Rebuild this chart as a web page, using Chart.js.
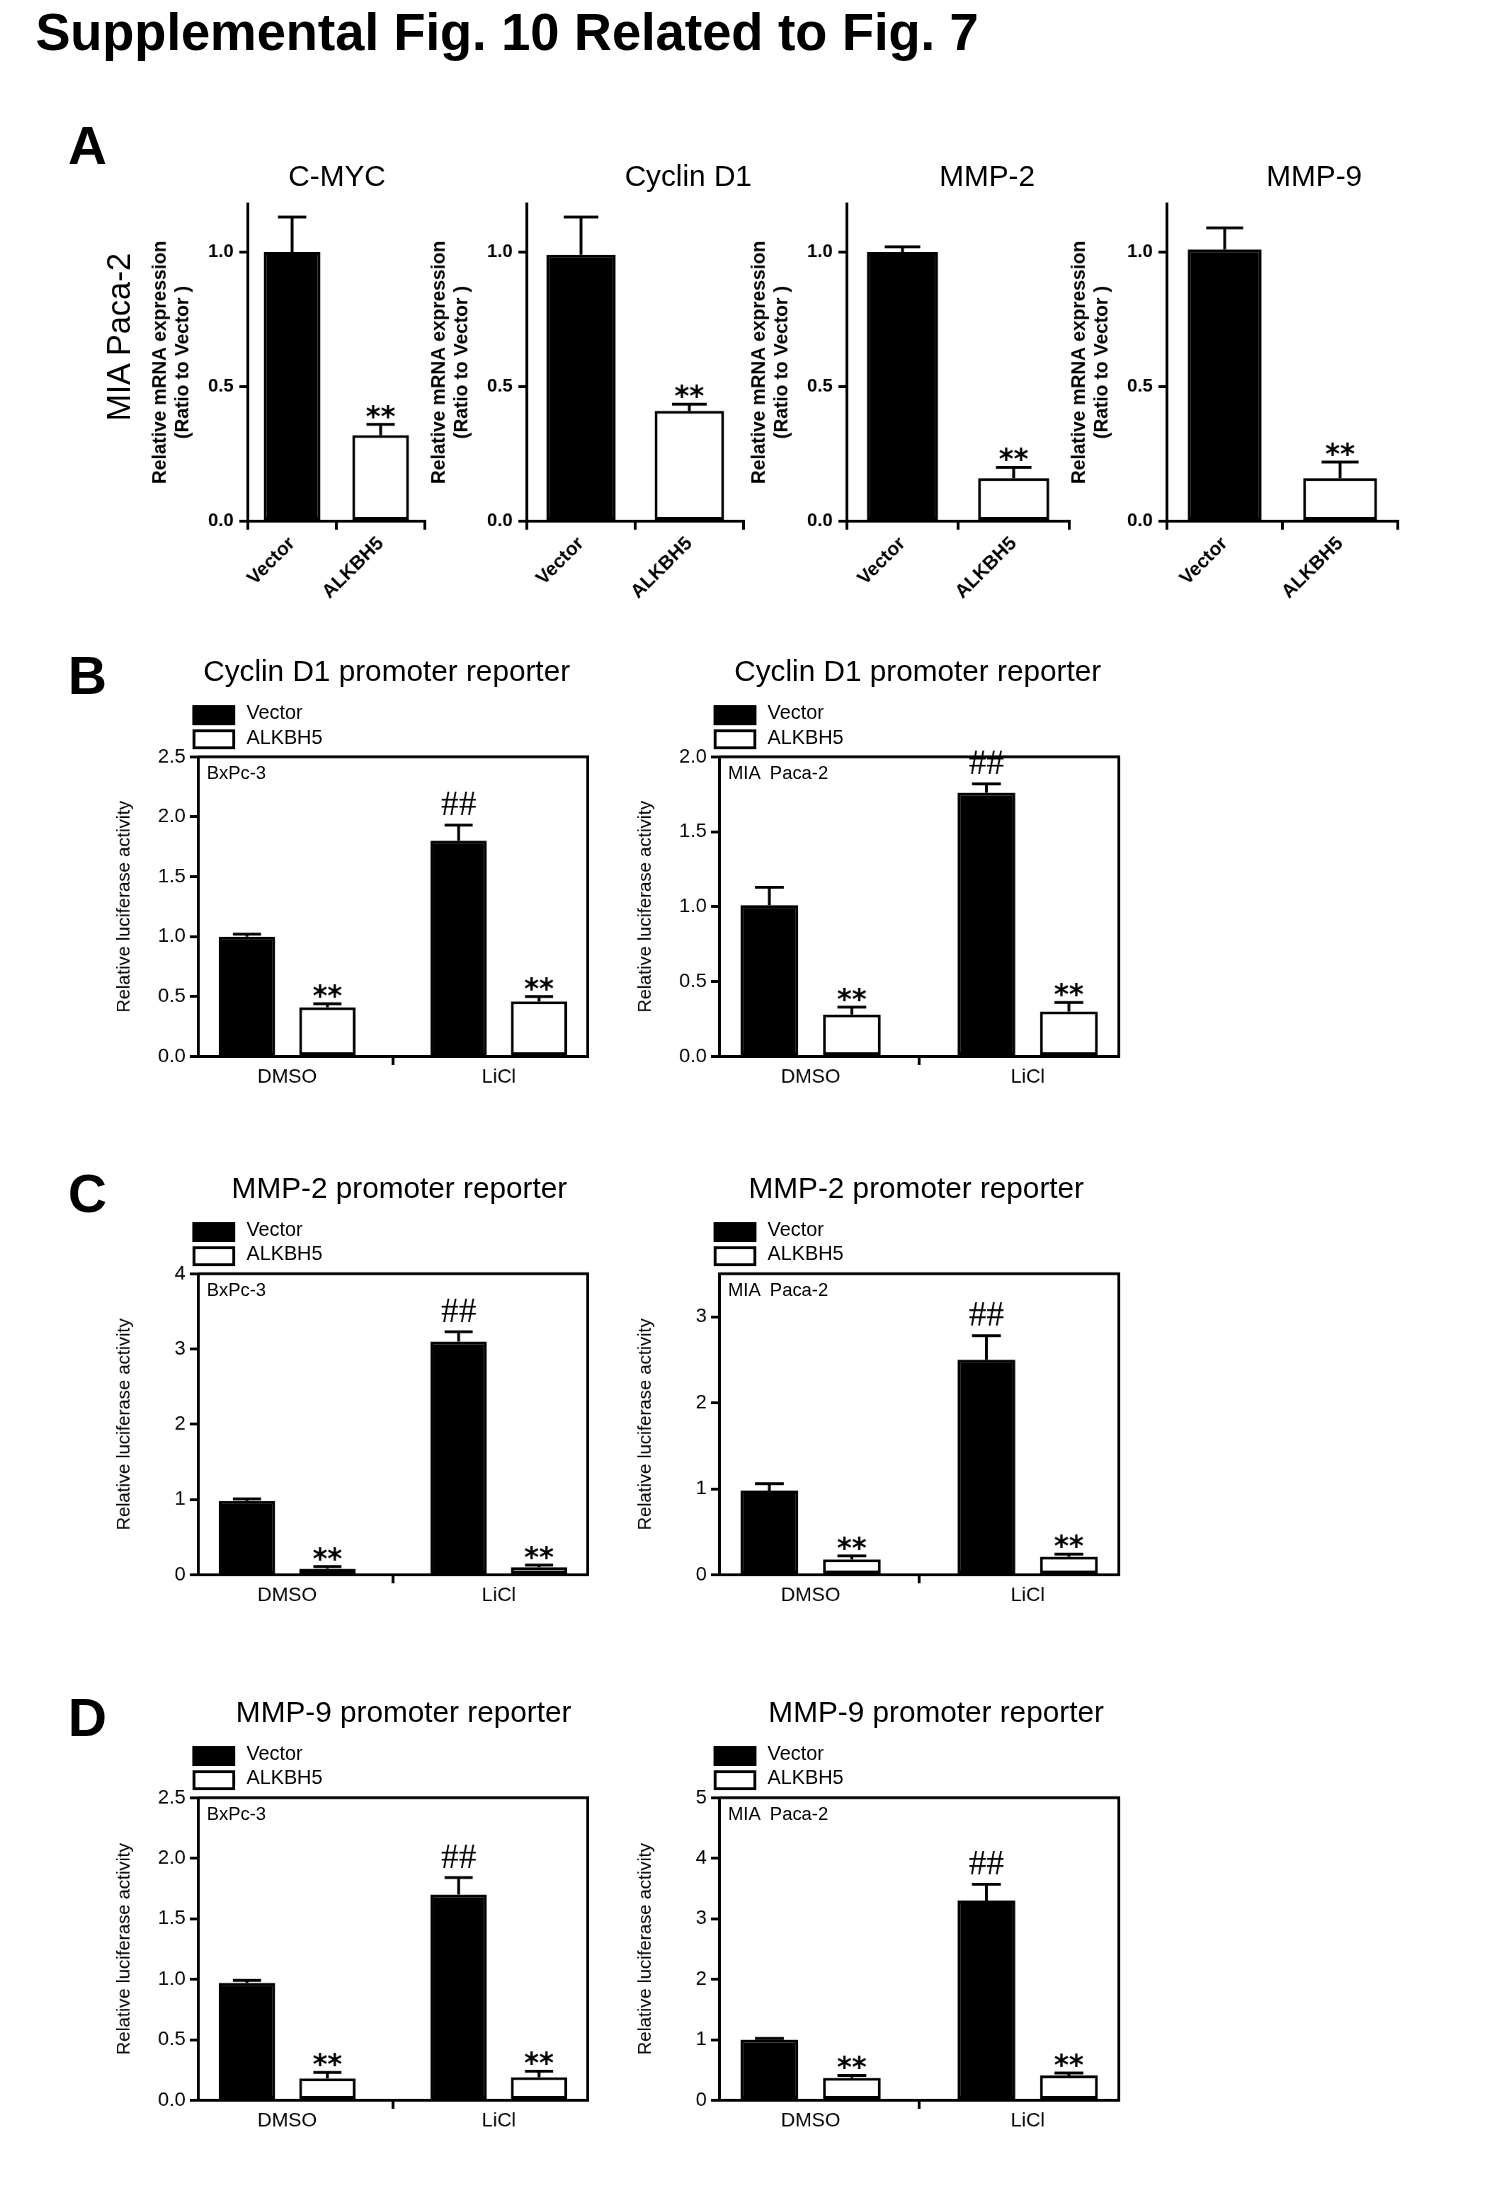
<!DOCTYPE html>
<html><head><meta charset="utf-8">
<script src="https://cdn.jsdelivr.net/npm/chart.js@4.4.1/dist/chart.umd.min.js"></script>
<style>
  html,body{margin:0;background:#fff;overflow:hidden}
  #page{position:absolute;left:0;top:0;width:1050px;height:1557px;transform:scale(1.4162);transform-origin:0 0;font-family:"Liberation Sans",Arial,sans-serif;color:#000}
  .t{position:absolute;white-space:nowrap}
  canvas{position:absolute}
  .sw{position:absolute;width:26px;height:10px;border:2px solid #000}
</style></head>
<body><div id="page"></div>
<script>
// ---- data ----
const groupsA = ['Vector', 'ALKBH5'];
const genesA = ['C-MYC', 'Cyclin D1', 'MMP-2', 'MMP-9'];
const meanA = [[1.0, 0.32], [0.99, 0.41], [1.0, 0.16], [1.01, 0.16]];
const errA = [[0.13, 0.04], [0.14, 0.025], [0.02, 0.04], [0.08, 0.06]];

const treatments = ['DMSO', 'LiCl'];
const cellLines = ['BxPc-3', 'MIA  Paca-2'];
const seriesNames = ['Vector', 'ALKBH5'];
const reporterTitles = ['Cyclin D1 promoter reporter', 'MMP-2 promoter reporter', 'MMP-9 promoter reporter'];
// [row][cellLine] -> [DMSO, LiCl]
const vectorMean = [[[1.0, 1.8], [1.01, 1.76]], [[0.98, 3.1], [0.98, 2.5]], [[0.97, 1.7], [1.0, 3.3]]];
const vectorErr  = [[[0.02, 0.13], [0.12, 0.06]], [[0.03, 0.13], [0.08, 0.28]], [[0.02, 0.14], [0.02, 0.27]]];
const alkMean    = [[[0.41, 0.46], [0.28, 0.30]], [[0.08, 0.10], [0.18, 0.21]], [[0.18, 0.19], [0.37, 0.41]]];
const alkErr     = [[[0.03, 0.04], [0.05, 0.06]], [[0.03, 0.03], [0.04, 0.03]], [[0.05, 0.05], [0.04, 0.04]]];
const yMax   = [[2.5, 2.0], [4, 3.5], [2.5, 5]];
const yStep  = [[0.5, 0.5], [1, 1], [0.5, 1]];
const yTop   = [[2.5, 2.0], [4, 3], [2.5, 5]];

// ---- helpers ----
const page = document.getElementById('page');
function txt(s, x, y, css) {
  const d = document.createElement('div'); d.className = 't'; d.textContent = s;
  d.style.left = x + 'px'; d.style.top = y + 'px'; d.style.cssText += css || '';
  page.appendChild(d); return d;
}
function canvasAt(x, y, w, h) {
  const wrap = document.createElement('div');
  wrap.style.cssText = `position:absolute;left:${x}px;top:${y}px;width:${w}px;height:${h}px`;
  const c = document.createElement('canvas');
  c.style.cssText = `left:0;top:0;width:${w}px;height:${h}px`;
  c.width = w; c.height = h;
  wrap.appendChild(c); page.appendChild(wrap); return c;
}

// error bars + significance marks
const errPlugin = {
  id: 'errbars',
  afterDatasetsDraw(chart) {
    const { ctx } = chart, y = chart.scales.y;
    chart.data.datasets.forEach((ds, i) => {
      chart.getDatasetMeta(i).data.forEach((bar, j) => {
        const v = ds.data[j].y !== undefined ? ds.data[j].y : ds.data[j];
        const top = y.getPixelForValue(v + ds.err[j]);
        const half = bar.width / 4;
        ctx.save(); ctx.strokeStyle = '#000'; ctx.lineWidth = 2;
        ctx.beginPath(); ctx.moveTo(bar.x, bar.y); ctx.lineTo(bar.x, top);
        ctx.moveTo(bar.x - half, top); ctx.lineTo(bar.x + half, top); ctx.stroke();
        const m = ds.marks && ds.marks[j];
        if (m) {
          ctx.fillStyle = '#000'; ctx.textAlign = 'center'; ctx.textBaseline = 'bottom';
          if (m === '##') { ctx.font = '25px "Liberation Serif", serif'; ctx.fillText(m, bar.x, top - 1); }
          else { ctx.font = 'bold 20px "DejaVu Sans", sans-serif'; ctx.fillText(m, bar.x, top + 6); }
        }
        ctx.restore();
      });
    });
  }
};
const boxPlugin = {
  id: 'box',
  afterDraw(chart, a, opts) {
    if (!opts.on) return;
    const { ctx, chartArea: c } = chart;
    ctx.save(); ctx.strokeStyle = '#000'; ctx.lineWidth = 2;
    ctx.beginPath(); ctx.moveTo(c.left, c.top); ctx.lineTo(c.right, c.top); ctx.lineTo(c.right, c.bottom); ctx.stroke();
    ctx.restore();
  }
};

function axisBase() {
  return {
    border: { color: '#000', width: 2 },
    grid: { drawOnChartArea: false, drawTicks: true, tickLength: 6, color: '#000', lineWidth: 2 },
  };
}

// ---- panel A ----
txt('Supplemental Fig. 10 Related to Fig. 7', 25, 2, 'font-size:37px;font-weight:bold');
txt('A', 48, 82, 'font-size:38px;font-weight:bold');
txt('MIA Paca-2', 84, 238, 'font-size:23px;transform:translate(-50%,-50%) rotate(-90deg)');
const axisXA = [175, 372, 598, 824];
const rightA = [300, 525, 755, 987];
const titleXA = [238, 486, 697, 928];
genesA.forEach((g, k) => {
  txt(g, titleXA[k], 112, 'font-size:21px;transform:translateX(-50%)');
  const yw = 70;
  const left = axisXA[k] - yw, w = rightA[k] - left + 4;
  const c = canvasAt(left, 132, w, 314);
  new Chart(c, {
    type: 'bar',
    data: { labels: groupsA, datasets: [{
      data: meanA[k], err: errA[k], marks: ['', '**'],
      backgroundColor: ['#000', '#fff'], borderColor: '#000', borderWidth: 2, borderSkipped: false,
      barPercentage: 0.64, categoryPercentage: 1 }] },
    options: {
      animation: false, responsive: false, devicePixelRatio: 2,
      layout: { padding: { top: 8, right: 4 } },
      plugins: { legend: { display: false }, tooltip: { enabled: false }, box: { on: false } },
      scales: {
        x: { ...axisBase(), offset: true,
          ticks: { color: '#000', font: { size: 13.5, weight: 'bold', family: 'Liberation Sans' }, minRotation: 45, maxRotation: 45, padding: 2 },
          afterFit(s) { s.height = 78; } },
        y: { ...axisBase(), min: 0, max: 1.18,
          afterBuildTicks(s) { s.ticks = [0, 0.5, 1].map(v => ({ value: v })); },
          ticks: { color: '#000', font: { size: 13, weight: 'bold', family: 'Liberation Sans' }, callback: v => v.toFixed(1), padding: 4 },
          title: { display: true, text: ['Relative mRNA expression', '(Ratio to Vector )'], color: '#000', font: { size: 13.5, weight: 'bold', family: 'Liberation Sans' }, padding: 0 },
          afterFit(s) { s.width = yw; } }
      }
    },
    plugins: [errPlugin, boxPlugin]
  });
});

// ---- panels B-D ----
const rowTop = [533, 898, 1268];     // plot area top
const plotH = [213, 214, 215];
const plotX = [[140, 415], [508, 790]];
const letters = ['B', 'C', 'D'];
const letterY = [456, 822, 1192];
const titleX = [[273, 648], [282, 647], [285, 661]];
rowTop.forEach((top, r) => {
  txt(letters[r], 48, letterY[r], 'font-size:38px;font-weight:bold');
  [0, 1].forEach(p => {
    const [x0, x1] = plotX[p];
    txt(reporterTitles[r], titleX[r][p], top - 71, 'font-size:21px;transform:translateX(-50%)');
    const lx = x0 - 4;
    const sw1 = document.createElement('div'); sw1.className = 'sw';
    sw1.style.cssText += `left:${lx}px;top:${top - 35}px;background:#000`; page.appendChild(sw1);
    const sw2 = document.createElement('div'); sw2.className = 'sw';
    sw2.style.cssText += `left:${lx}px;top:${top - 18}px;background:#fff`; page.appendChild(sw2);
    txt(seriesNames[0], lx + 38, top - 38, 'font-size:14px');
    txt(seriesNames[1], lx + 38, top - 21, 'font-size:14px');
    txt(cellLines[p], x0 + 6, top + 5, 'font-size:13px;white-space:pre');

    const c = canvasAt(x0 - 62, top - 10, x1 - x0 + 62 + 10, plotH[r] + 10 + 32);
    const pts = arr => arr.map((v, i) => ({ x: i, y: v }));
    new Chart(c, {
      type: 'bar',
      data: { datasets: [
        { label: seriesNames[0], data: pts(vectorMean[r][p]), err: vectorErr[r][p], marks: ['', '##'],
          backgroundColor: '#000', borderColor: '#000', borderWidth: 2, borderSkipped: false,
          barPercentage: 0.7, categoryPercentage: 0.76 },
        { label: seriesNames[1], data: pts(alkMean[r][p]), err: alkErr[r][p], marks: ['**', '**'],
          backgroundColor: '#fff', borderColor: '#000', borderWidth: 2, borderSkipped: false,
          barPercentage: 0.7, categoryPercentage: 0.76 }
      ] },
      options: {
        animation: false, responsive: false, devicePixelRatio: 2,
        layout: { padding: { top: 10, right: 10 } },
        plugins: { legend: { display: false }, tooltip: { enabled: false }, box: { on: true } },
        scales: {
          x: { ...axisBase(), type: 'linear', offset: false, min: -0.42, max: 1.42,
            afterBuildTicks(s) { s.ticks = [{ value: 0 }, { value: 1 }]; },
            ticks: { color: '#000', font: { size: 14, family: 'Liberation Sans' }, padding: 0,
              callback: v => treatments[v] },
            afterFit(s) { s.height = 32; } },
          y: { ...axisBase(), min: 0, max: yMax[r][p],
            afterBuildTicks(s) {
              const t = []; for (let v = 0; v <= yTop[r][p] + 1e-9; v += yStep[r][p]) t.push({ value: +v.toFixed(2) });
              s.ticks = t;
            },
            ticks: { color: '#000', font: { size: 14, family: 'Liberation Sans' }, padding: 3,
              callback: v => yStep[r][p] < 1 ? v.toFixed(1) : String(v) },
            title: { display: true, text: 'Relative luciferase activity', color: '#000', font: { size: 13, family: 'Liberation Sans' }, padding: 2 },
            afterFit(s) { s.width = 62; } }
        }
      },
      plugins: [errPlugin, boxPlugin]
    });
  });
});
</script></body></html>
